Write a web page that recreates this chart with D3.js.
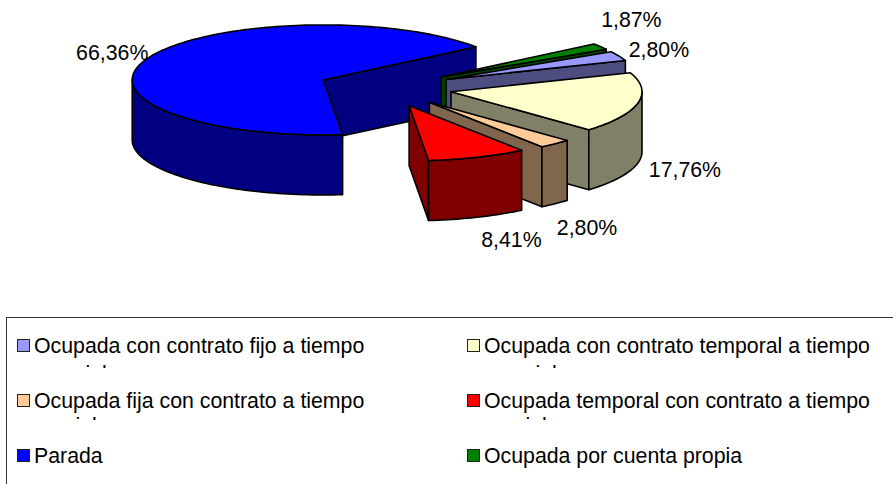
<!DOCTYPE html>
<html>
<head>
<meta charset="utf-8">
<script src="https://cdn.jsdelivr.net/npm/d3@7"></script>
<style>
	html, body { margin: 0; padding: 0; background: #fff; overflow: hidden; }
	text { font-family: "Liberation Sans", Arial, sans-serif; fill: #000; }
</style>
</head>
<body>
<svg id="myGraph" width="893" height="484"></svg>
<script>
// data, in legend order
var categories = [
	"Ocupada con contrato fijo a tiempo",
	"Ocupada con contrato temporal a tiempo",
	"Ocupada fija con contrato a tiempo",
	"Ocupada temporal con contrato a tiempo",
	"Parada",
	"Ocupada por cuenta propia"
];
var secondLines = ["parcial", "parcial", "parcial", "parcial", "", ""];	// cut off by the legend row in the original
var values = [2.80, 17.76, 2.80, 8.41, 66.36, 1.87];
var labels = ["2,80%", "17,76%", "2,80%", "8,41%", "66,36%", "1,87%"];
var topColors = ["#9999ff", "#ffffcc", "#ffcc99", "#ff0000", "#0000ff", "#008000"];
var sideColors = ["#4d4d80", "#808066", "#80664d", "#800000", "#000080", "#004000"];
var drawOrder = [4, 5, 0, 1, 2, 3];	// back to front

var svg = d3.select("#myGraph");
var fontSize = 21.3;
var rad = Math.PI / 180;

// pie layout, the ellipse is a circle squashed through two scales
var startDeg = 59.8;
var explode = 0.353;
var depth = 60;
var x = d3.scaleLinear().domain([-1, 1]).range([385 - 191, 385 + 191]);
var y = d3.scaleLinear().domain([-1, 1]).range([87.7 + 55, 87.7 - 55]);

var pie = d3.pie().sort(null)
	.startAngle(startDeg * rad)
	.endAngle((startDeg + 360) * rad);
var slices = pie(values);

// label nudge from the outer middle of each slice
var labelNudge = [[40, -6], [47, 67], [32, 84], [34, 83], [-36, -5], [31, -27]];

var line = d3.line();
var outline = function(sel){
	sel.attr("stroke", "#000").attr("stroke-width", 1.6).attr("stroke-linejoin", "round");
};

// point on the slice: t = 0 apex, t = 1 rim
function pt(d, a, t, drop){
	var mid = (d.startAngle + d.endAngle) / 2;
	var ux = explode * Math.sin(mid) + t * Math.sin(a);
	var uy = explode * Math.cos(mid) + t * Math.cos(a);
	return [x(ux), y(uy) + (drop || 0)];
}

function arcAngles(a0, a1){
	var n = Math.max(2, Math.ceil((a1 - a0) / (1.5 * rad)));
	return d3.range(n + 1).map(function(i){ return a0 + (a1 - a0) * i / n; });
}

// one group per slice, walls first and top face last
drawOrder.forEach(function(i){
	var d = slices[i];
	var g = svg.append("g").attr("class", "slice");

	// flat walls along the two cut edges
	[[d.startAngle, -1], [d.endAngle, 1]].forEach(function(e){
		if (Math.sin(e[0]) * e[1] <= 0) return;
		g.append("path")
			.attr("d", line([pt(d, e[0], 0), pt(d, e[0], 1), pt(d, e[0], 1, depth), pt(d, e[0], 0, depth)]) + "Z")
			.attr("fill", sideColors[i])
			.call(outline);
	});

	// rim wall, only the front half of the ellipse shows
	[[90, 270], [450, 630]].forEach(function(w){
		var a0 = Math.max(d.startAngle, w[0] * rad);
		var a1 = Math.min(d.endAngle, w[1] * rad);
		if (a1 <= a0) return;
		var rim = arcAngles(a0, a1);
		var pts = rim.map(function(a){ return pt(d, a, 1); })
			.concat(rim.slice().reverse().map(function(a){ return pt(d, a, 1, depth); }));
		g.append("path")
			.attr("d", line(pts) + "Z")
			.attr("fill", sideColors[i])
			.call(outline);
	});

	var top = [pt(d, d.startAngle, 0)].concat(arcAngles(d.startAngle, d.endAngle).map(function(a){ return pt(d, a, 1); }));
	g.append("path")
		.attr("d", line(top) + "Z")
		.attr("fill", topColors[i])
		.call(outline);
});

// value labels
svg.selectAll("text.value")
	.data(slices)
	.enter()
	.append("text")
	.attr("class", "value")
	.attr("text-anchor", "middle")
	.attr("font-size", fontSize)
	.attr("x", function(d, i){
		var mid = (d.startAngle + d.endAngle) / 2;
		return pt(d, mid, 1)[0] + labelNudge[i][0];
	})
	.attr("y", function(d, i){
		var mid = (d.startAngle + d.endAngle) / 2;
		return pt(d, mid, 1)[1] + labelNudge[i][1] + 7;
	})
	.text(function(d, i){ return labels[i]; });

// legend box runs off the page at the right and bottom
svg.append("rect")
	.attr("x", 6.5).attr("y", 317.5)
	.attr("width", 1000).attr("height", 300)
	.attr("fill", "#fff")
	.attr("stroke", "#333").attr("stroke-width", 1);

var legendCol = d3.scaleOrdinal().domain([0, 1]).range([17, 467]);
var legendRow = d3.scaleOrdinal().domain([0, 1, 2]).range([339.5, 394.5, 449.5]);
var clipBottom = [368, 420, 0];
var secondIndent = [10, 0, 0];
var secondDrop = [41, 38, 0];

var defs = svg.append("defs");
categories.forEach(function(name, i){
	var col = i % 2, row = Math.floor(i / 2);
	var g = svg.append("g").attr("class", "legend-item");
	var top = legendRow(row);

	g.append("rect")
		.attr("x", legendCol(col) + 0.5).attr("y", top)
		.attr("width", 12).attr("height", 12)
		.attr("fill", topColors[i])
		.attr("stroke", "#222").attr("stroke-width", 1);

	g.append("text")
		.attr("x", legendCol(col) + 17)
		.attr("y", top + 13)
		.attr("font-size", fontSize)
		.text(name);

	if (secondLines[i]) {
		// only the tops of the tall letters show through
		defs.append("clipPath").attr("id", "cut" + i)
			.append("rect")
			.attr("x", legendCol(col)).attr("y", clipBottom[row] - 10)
			.attr("width", 400).attr("height", 10);
		g.append("g").attr("clip-path", "url(#cut" + i + ")")
			.append("text")
			.attr("x", legendCol(col) + 17 + secondIndent[row])
			.attr("y", top + secondDrop[row])
			.attr("font-size", fontSize)
			.text(secondLines[i]);
	}
});
</script>
</body>
</html>
